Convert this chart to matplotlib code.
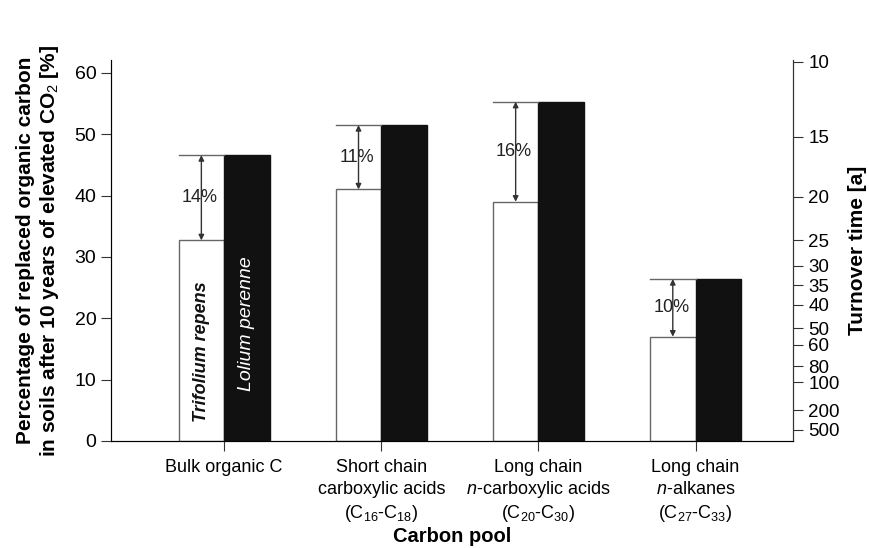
import matplotlib
matplotlib.use("Agg")
import matplotlib.pyplot as plt
import matplotlib.transforms as mtransforms
import numpy as np

plt.rcParams['font.family'] = ['Liberation Sans', 'DejaVu Sans']
plt.rcParams['mathtext.fontset'] = 'custom'
plt.rcParams['mathtext.rm'] = 'Liberation Sans'
plt.rcParams['mathtext.it'] = 'Liberation Sans:italic'
plt.rcParams['mathtext.bf'] = 'Liberation Sans:bold'

# data
categories = [
    ["Bulk organic C"],
    ["Short chain", "carboxylic acids", "(C$_{16}$-C$_{18}$)"],
    ["Long chain", "$\\it{n}$-carboxylic acids", "(C$_{20}$-C$_{30}$)"],
    ["Long chain", "$\\it{n}$-alkanes", "(C$_{27}$-C$_{33}$)"],
]
trifolium = [32.7, 41.0, 39.0, 17.0]
lolium = [46.6, 51.5, 55.3, 26.4]
diff_labels = ["14%", "11%", "16%", "10%"]

# right axis: turnover time labels and where they sit on the left scale
turnover_labels = ["10", "15", "20", "25", "30", "35", "40", "50", "60", "80", "100", "200", "500"]
turnover_pos = [61.8, 49.6, 39.8, 32.7, 28.6, 25.4, 22.2, 18.4, 15.7, 12.2, 9.6, 5.0, 1.8]

x = np.arange(len(categories))
w = 0.29
edge = '#666666'

fig = plt.figure(figsize=(8.7, 5.48), dpi=100)
ax = fig.add_axes([0.1276, 0.1953, 0.7839, 0.6952])

ax.bar(x - w / 2, trifolium, w, color='white', edgecolor=edge, linewidth=1)
ax.bar(x + w / 2, lolium, w, color='#111111', edgecolor='#111111', linewidth=1)

for i in range(len(x)):
    xl = x[i] - w
    xc = x[i] - w / 2
    ax.plot([xl, x[i]], [lolium[i], lolium[i]], color=edge, lw=1)
    ax.annotate("", xy=(xc, trifolium[i]), xytext=(xc, lolium[i]),
                arrowprops=dict(arrowstyle='<|-|>', color='#333333', lw=1,
                                mutation_scale=8, shrinkA=0, shrinkB=0))
    ax.text(xc - 0.01, (trifolium[i] + lolium[i]) / 2, diff_labels[i],
            ha='center', va='center', fontsize=13, color='#222222')

ax.text(x[0] - w / 2, 14.5, "Trifolium repens", rotation=90, ha='center', va='center',
        fontsize=13, fontstyle='italic', fontweight='bold', color='#111111')
ax.text(x[0] + w / 2, 19.1, "Lolium perenne", rotation=90, ha='center', va='center',
        fontsize=14, fontstyle='italic', color='white')

ax.set_xlim(-0.72, 3.62)
ax.set_ylim(0, 62.1)
ax.set_yticks([0, 10, 20, 30, 40, 50, 60])
ax.set_xticks(x)
ax.set_xticklabels([])
ax.tick_params(axis='x', direction='out', length=7, color='#333333')
ax.tick_params(axis='y', direction='out', length=7, labelsize=14, color='#333333')

# category labels, one text per line so the line spacing stays even
trans = mtransforms.blended_transform_factory(ax.transData, fig.transFigure)
line_y = [1 - 467 / 548, 1 - 490 / 548, 1 - 513 / 548]
for i, lines in enumerate(categories):
    for j, line in enumerate(lines):
        ax.text(x[i], line_y[j], line, transform=trans, ha='center', va='center',
                fontsize=13, clip_on=False)

fig.text(ax.get_position().x0 + ax.get_position().width / 2, 1 - 537 / 548, "Carbon pool",
         ha='center', va='center', fontsize=14.5, fontweight='bold')
ax.set_ylabel("Percentage of replaced organic carbon\nin soils after 10 years of elevated CO$_2$ [%]",
              fontsize=15, fontweight='bold', labelpad=10, linespacing=1.15)
ax.spines['top'].set_visible(False)
for s in ['left', 'bottom', 'right']:
    ax.spines[s].set_color('#333333')

ax2 = ax.twinx()
ax2.set_ylim(ax.get_ylim())
ax2.set_yticks(turnover_pos)
ax2.set_yticklabels(turnover_labels, fontsize=13.5)
ax2.tick_params(axis='y', direction='out', length=7, pad=4, color='#333333')
ax2.set_ylabel("Turnover time [a]", fontsize=15, fontweight='bold', labelpad=6)
ax2.spines['top'].set_visible(False)
ax2.spines['right'].set_color('#333333')

fig.savefig("out.png", dpi=100)
